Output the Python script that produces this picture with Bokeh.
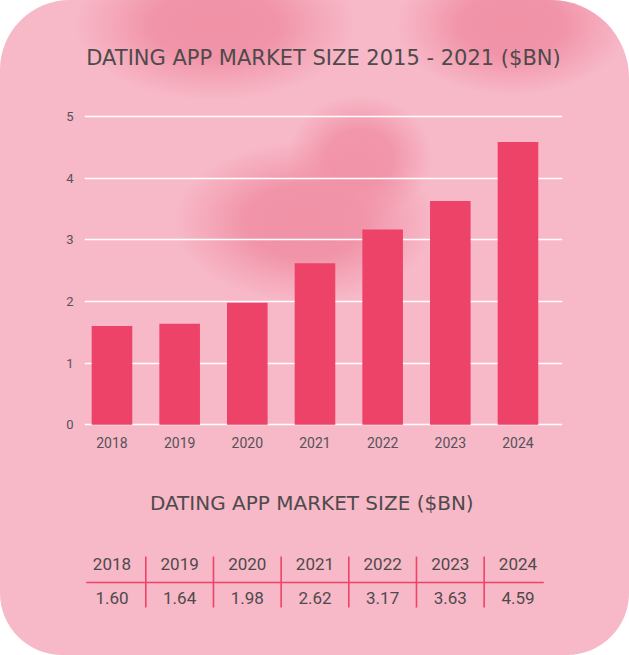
from bokeh.plotting import figure
from bokeh.layouts import column
from bokeh.models import Range1d, FixedTicker
from bokeh.core.properties import value
from bokeh.embed import file_html
from bokeh.resources import INLINE

# ---------------- data ----------------
years = ["2018", "2019", "2020", "2021", "2022", "2023", "2024"]
market_size = [1.60, 1.64, 1.98, 2.62, 3.17, 3.63, 4.59]
value_labels = ["1.60", "1.64", "1.98", "2.62", "3.17", "3.63", "4.59"]
y_ticks = [0, 1, 2, 3, 4, 5]
chart_title = "DATING APP MARKET SIZE 2015 - 2021 ($BN)"
table_title = "DATING APP MARKET SIZE  ($BN)"

# ---------------- style ----------------
W = 629
BL, BR = 84, 67
BAR = "#ee4368"
TXT = "#4e4a4c"
TICK = "#56525a"
idx = list(range(len(years)))
X0, X1 = -0.406, 6.658
S = (X1 - X0) / (W - BL - BR)          # data units per pixel
FX0, FX1 = X0 - BL * S, X1 + BR * S    # same mapping on a full-width frame
mid = (len(years) - 1) / 2
ROW = 34.0                              # table row pitch in px
LIFT = 8.0 / ROW                        # baseline correction for svg text


def bare(fig):
    fig.background_fill_color = None
    fig.border_fill_color = None
    fig.outline_line_color = None
    return fig


# ---------------- title ----------------
pt = bare(figure(width=W, height=95, x_range=Range1d(FX0, FX1), y_range=Range1d(95, 0),
                 min_border=0, title=None,
                 x_axis_location=None, y_axis_location=None,
                 toolbar_location=None, output_backend="svg"))
pt.grid.visible = False
pt.text(x=[mid], y=[57], text=[chart_title], text_align="center", text_baseline="alphabetic",
        text_font=value("DejaVu Sans"), text_font_size="21px", text_color=TXT)

# ---------------- bar chart ----------------
pc = bare(figure(width=W, height=365, x_range=Range1d(X0, X1), y_range=Range1d(-0.03, 5.15),
                 min_border_left=BL, min_border_right=BR, min_border_top=12, min_border_bottom=34,
                 title=None, toolbar_location=None, output_backend="svg"))
pc.vbar(x=idx, top=market_size, bottom=0, width=0.6, color=BAR, line_color=None)
pc.xgrid.visible = False
pc.ygrid.ticker = FixedTicker(ticks=y_ticks)
pc.ygrid.grid_line_color = "white"
pc.ygrid.grid_line_width = 1.5
pc.ygrid.grid_line_alpha = 1.0
pc.yaxis.ticker = FixedTicker(ticks=y_ticks)
pc.xaxis.ticker = FixedTicker(ticks=idx)
pc.xaxis.major_label_overrides = {i: y for i, y in zip(idx, years)}
for ax in (pc.xaxis[0], pc.yaxis[0]):
    ax.axis_line_color = None
    ax.major_tick_line_color = None
    ax.minor_tick_line_color = None
    ax.major_tick_in = 0
    ax.major_tick_out = 0
    ax.minor_tick_in = 0
    ax.minor_tick_out = 0
    ax.major_label_text_font = "Roboto"
    ax.major_label_text_color = TICK
pc.xaxis.major_label_text_font_size = "14px"
pc.yaxis.major_label_text_font_size = "13px"
pc.xaxis.major_label_standoff = 10
pc.yaxis.major_label_standoff = 11

# ---------------- table ----------------
ptab = bare(figure(width=W, height=195, x_range=Range1d(X0, X1), y_range=Range1d(-1.47, 4.265),
                   min_border_left=BL, min_border_right=BR, min_border_top=0, min_border_bottom=0,
                   title=None, x_axis_location=None, y_axis_location=None,
                   toolbar_location=None, output_backend="svg"))
ptab.grid.visible = False
ptab.text(x=[mid], y=[2.77 + LIFT], text=[table_title], text_align="center", text_baseline="alphabetic",
          text_font=value("DejaVu Sans"), text_font_size="20px", text_color=TXT)
ptab.text(x=idx, y=[1 + LIFT] * len(idx), text=years, text_align="center", text_baseline="alphabetic",
          text_font=value("Roboto"), text_font_size="17px", text_color=TXT)
ptab.text(x=idx, y=[0 + LIFT] * len(idx), text=value_labels, text_align="center", text_baseline="alphabetic",
          text_font=value("Roboto"), text_font_size="17px", text_color=TXT)
seps = [i + 0.5 for i in idx[:-1]]
ptab.segment(x0=seps, y0=[-0.06] * len(seps), x1=seps, y1=[1.44] * len(seps),
             line_color=BAR, line_width=1.6)
ptab.segment(x0=[idx[0] - 0.38], y0=[0.676], x1=[idx[-1] + 0.38], y1=[0.676],
             line_color=BAR, line_width=1.4)

# ---------------- card background ----------------
c = "241,146,167"
def blob(rx, ry, cx, cy, a=1.0):
    return (f"radial-gradient(ellipse {rx}px {ry}px at {cx}px {cy}px, "
            f"rgba({c},{a}) 0%, rgba({c},{a*0.95}) 45%, rgba({c},{a*0.4}) 75%, rgba({c},0) 100%)")

bg = ", ".join([
    blob(140, 75, 215, 25),
    blob(115, 70, 512, 25),
    blob(72, 62, 360, 158, 0.95),
    blob(130, 80, 305, 222, 1.0),
    "#f7b8c7",
])

layout = column(pt, pc, ptab, width=W, height=655,
                styles={"background": bg, "border-radius": "70px 78px 62px 62px"})

open("out.html", "w").write(file_html(layout, INLINE))
